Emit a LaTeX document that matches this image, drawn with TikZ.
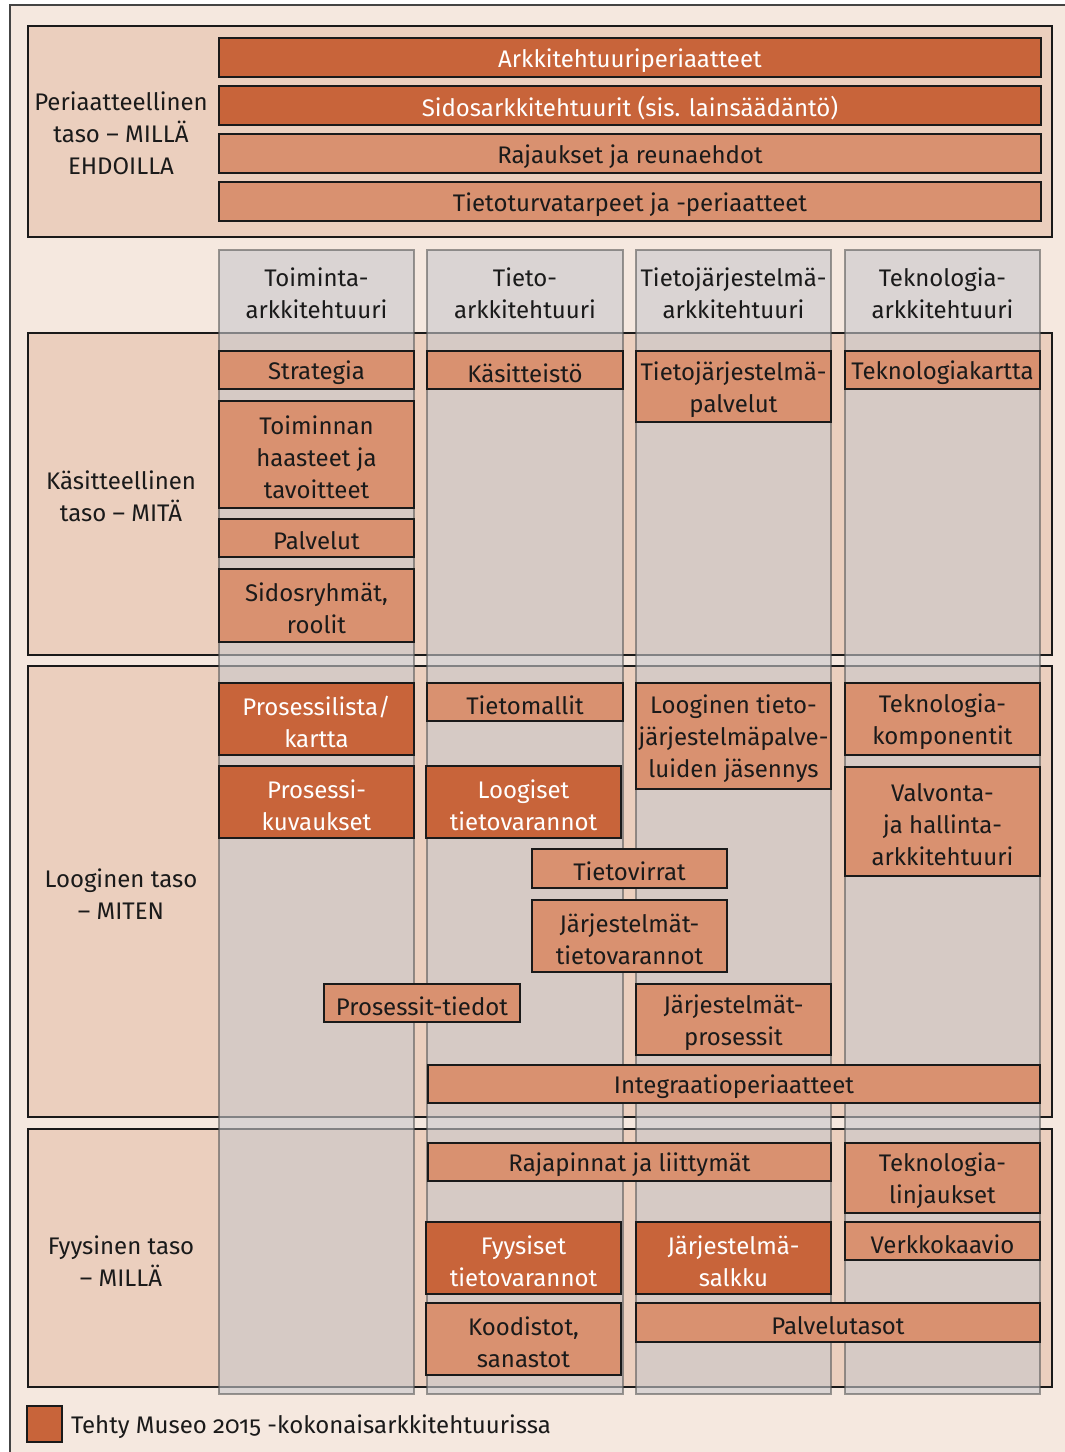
\documentclass[tikz,border=0pt]{standalone}
\usepackage{fontspec}
\setmainfont{Fira Sans}[Numbers=OldStyle]
\definecolor{outerbg}{HTML}{F5E8DF}
\definecolor{bandbg}{HTML}{EBCFBE}
\definecolor{darkbox}{HTML}{C8643A}
\definecolor{lightbox}{HTML}{D99170}
\definecolor{colgray}{RGB}{200,200,203}
\definecolor{framecol}{HTML}{444444}
\definecolor{ink}{HTML}{1A1A1A}
\newcommand\bx[7]{\node[#1, anchor=north west, minimum width={(#5-#3)*1pt}, minimum height={(#6-#4)*1pt}] (#2) at (#3,#4) {};
  \node[#1 text] (#2-t) at ([yshift=-3pt]#2.center) {#7};}
\tikzset{
  base/.style={inner sep=0pt, outer sep=0pt, align=center, font=\fontsize{24}{32}\selectfont},
  band/.style={base, fill=bandbg, draw=ink, line width=1.4pt},
  colbox/.style={base, fill=colgray, fill opacity=0.6, draw=black!65, draw opacity=0.6, line width=1.5pt},
  lbox/.style={base, fill=lightbox, draw=ink, line width=1.2pt},
  dbox/.style={base, fill=darkbox, draw=ink, line width=1.2pt},
  lbox text/.style={base, text=ink},
  dbox text/.style={base, text=white},
  lbl/.style={base, text=ink},
}
\begin{document}
\begin{tikzpicture}[x=1pt,y=-1pt]
\useasboundingbox (0,0) rectangle (1065,1452);
\fill[outerbg] (10,5) rectangle (1065,1452);
\draw[framecol, line width=2pt] (10,1452) -- (10,5) -- (1065,5);
% bands
\node[band, anchor=north west, minimum width=1024pt, minimum height=211pt] (b1) at (28,26) {};
\node[band, anchor=north west, minimum width=1024pt, minimum height=322pt] (b2) at (28,333) {};
\node[band, anchor=north west, minimum width=1024pt, minimum height=451pt] (b3) at (28,666) {};
\node[band, anchor=north west, minimum width=1024pt, minimum height=258pt] (b4) at (28,1129) {};
\node[lbl] (l1) at (121,133.5) {Periaatteellinen\\taso – MILLÄ\\EHDOILLA};
\node[lbl] (l2) at (121,496) {Käsitteellinen\\taso – MITÄ};
\node[lbl] (l3) at (121,894) {Looginen taso\\– MITEN};
\node[lbl] (l4) at (121,1261) {Fyysinen taso\\– MILLÄ};
% columns
\node[colbox, anchor=north west, minimum width=195pt, minimum height=1144pt] (c1) at (219,250) {};
\node[colbox, anchor=north west, minimum width=196pt, minimum height=1144pt] (c2) at (427,250) {};
\node[colbox, anchor=north west, minimum width=195pt, minimum height=1144pt] (c3) at (636,250) {};
\node[colbox, anchor=north west, minimum width=195pt, minimum height=1144pt] (c4) at (845,250) {};
\node[lbl] (h1) at (316.5,293) {Toiminta-\\arkkitehtuuri};
\node[lbl] (h2) at (525,293) {Tieto-\\arkkitehtuuri};
\node[lbl] (h3) at (733.5,293) {Tietojärjestelmä-\\arkkitehtuuri};
\node[lbl] (h4) at (942.5,293) {Teknologia-\\arkkitehtuuri};
% top band boxes
\bx{dbox}{p1}{219}{38}{1041}{77}{Arkkitehtuuriperiaatteet}
\bx{dbox}{p2}{219}{86}{1041}{125}{Sidosarkkitehtuurit (sis. lainsäädäntö)}
\bx{lbox}{p3}{219}{134}{1041}{173}{Rajaukset ja reunaehdot}
\bx{lbox}{p4}{219}{182}{1041}{221}{Tietoturvatarpeet ja -periaatteet}
% conceptual
\bx{lbox}{k1}{219}{351}{414}{389}{Strategia}
\bx{lbox}{k2}{219}{401}{414}{508}{Toiminnan\\haasteet ja\\tavoitteet}
\bx{lbox}{k3}{219}{519}{414}{557}{Palvelut}
\bx{lbox}{k4}{219}{569}{414}{642}{Sidosryhmät,\\roolit}
\bx{lbox}{k5}{427}{351}{623}{389}{Käsitteistö}
\bx{lbox}{k6}{636}{351}{831}{422}{Tietojärjestelmä-\\palvelut}
\bx{lbox}{k7}{845}{351}{1040}{389}{Teknologiakartta}
% logical
\bx{dbox}{g1}{219}{683}{414}{755}{Prosessilista/\\kartta}
\bx{dbox}{g2}{219}{766}{414}{838}{Prosessi-\\kuvaukset}
\bx{lbox}{g3}{427}{683}{623}{721}{Tietomallit}
\bx{dbox}{g4}{426}{766}{621}{838}{Loogiset\\tietovarannot}
\bx{lbox}{g5}{636}{683}{831}{789}{Looginen tieto-\\järjestelmäpalve-\\luiden jäsennys}
\bx{lbox}{g6}{845}{683}{1040}{755}{Teknologia-\\komponentit}
\bx{lbox}{g7}{845}{767}{1040}{876}{Valvonta-\\ja hallinta-\\arkkitehtuuri}
\bx{lbox}{g8}{532}{849}{727}{888}{Tietovirrat}
\bx{lbox}{g9}{532}{900}{727}{972}{Järjestelmät-\\tietovarannot}
\bx{lbox}{g10}{324}{984}{520}{1022}{Prosessit-tiedot}
\bx{lbox}{g11}{636}{984}{831}{1055}{Järjestelmät-\\prosessit}
\bx{lbox}{g12}{428}{1065}{1040}{1103}{Integraatioperiaatteet}
% physical
\bx{lbox}{f1}{428}{1143}{831}{1181}{Rajapinnat ja liittymät}
\bx{lbox}{f2}{845}{1143}{1040}{1213}{Teknologia-\\linjaukset}
\bx{lbox}{f3}{845}{1222}{1040}{1260}{Verkkokaavio}
\bx{dbox}{f4}{426}{1222}{621}{1294}{Fyysiset\\tietovarannot}
\bx{dbox}{f5}{636}{1222}{831}{1294}{Järjestelmä-\\salkku}
\bx{lbox}{f6}{426}{1303}{621}{1375}{Koodistot,\\sanastot}
\bx{lbox}{f7}{636}{1303}{1040}{1342}{Palvelutasot}
% legend
\node[dbox, anchor=north west, minimum width=35pt, minimum height=36pt] (leg) at (27,1406) {};
\node[lbl, anchor=base west] (legt) at (71,1433) {Tehty Museo 2015 -kokonaisarkkitehtuurissa};
\end{tikzpicture}
\end{document}
